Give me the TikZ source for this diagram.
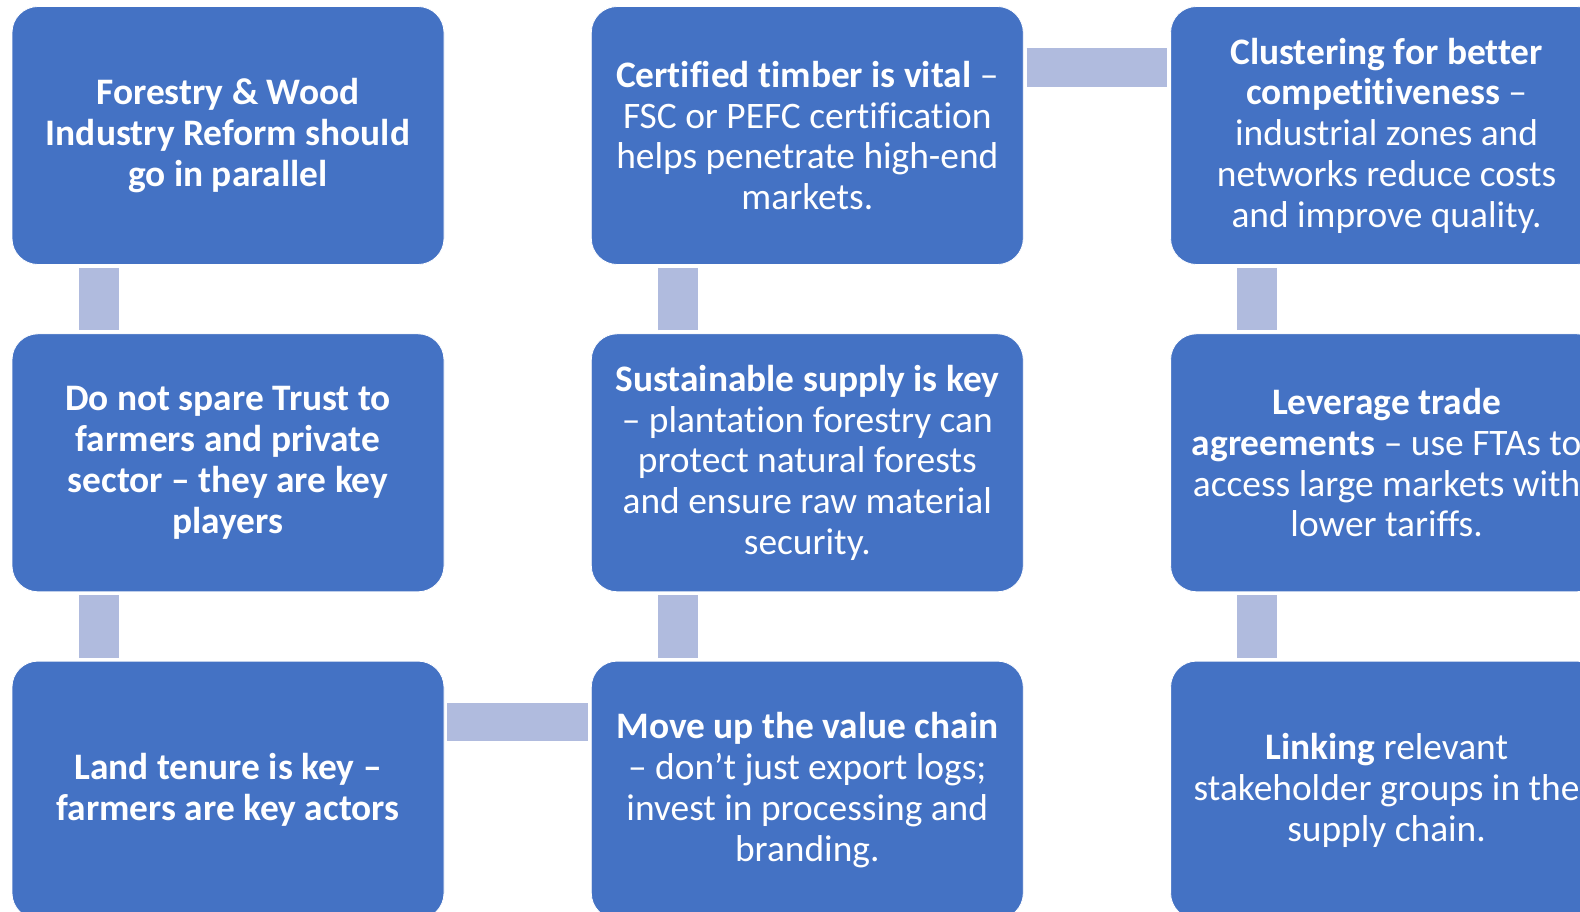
\documentclass[tikz,border=0pt]{standalone}
\usepackage{fontspec}
\setmainfont{Carlito}[Ligatures={TeX,NoCommon}]
\usetikzlibrary{positioning}
\definecolor{boxblue}{HTML}{4472C4}
\definecolor{linkblue}{HTML}{B0BBDE}

\begin{document}
\begin{tikzpicture}[x=1pt, y=-1pt,
    box/.style={rectangle, rounded corners=26pt, fill=boxblue, draw=white, line width=0.8pt,
      text=white, minimum width=432pt, minimum height=258pt, text width=428pt, align=flush center,
      inner sep=0pt, font=\fontsize{37.4}{40.8}\selectfont},
    link/.style={draw=linkblue, line width=40pt},
    hlink/.style={link, line width=38.5pt},
    node distance=68.5pt and 146.5pt]
    \useasboundingbox (0,0) rectangle (1580,912);
    \clip (0,0) rectangle (1580,912);

    \node[box] (reform) at (228,135.5) {\textbf{Forestry \& Wood}\\\textbf{Industry Reform should}\\\textbf{go in parallel}};
    \node[box, below=of reform] (trust) {\textbf{Do not spare Trust to}\\\textbf{farmers and private}\\\textbf{sector -- they are key}\\\textbf{players}};
    \node[box, below=of trust] (tenure) {\textbf{Land tenure is key --}\\\textbf{farmers are key actors}};

    \node[box, right=of tenure] (value) {\textbf{Move up the value chain}\\-- don’t just export logs;\\invest in processing and\\branding.};
    \node[box, right=of trust] (supply) {\textbf{Sustainable supply is key}\\-- plantation forestry can\\protect natural forests\\and ensure raw material\\security.};
    \node[box, right=of reform] (timber) {\textbf{Certified timber is vital} --\\FSC or PEFC certification\\helps penetrate high-end\\markets.};

    \node[box, right=of timber] (cluster) {\textbf{Clustering for better}\\\textbf{competitiveness} --\\industrial zones and\\networks reduce costs\\and improve quality.};
    \node[box, right=of supply] (trade) {\textbf{Leverage trade}\\\textbf{agreements} -- use FTAs to\\access large markets with\\lower tariffs.};
    \node[box, right=of value] (linking) {\textbf{Linking} relevant\\stakeholder groups in the\\supply chain.};

    \draw[link] ([xshift=87pt,yshift=-3pt]reform.south west) -- ([xshift=87pt,yshift=3pt]trust.north west);
    \draw[link] ([xshift=87pt,yshift=-3pt]trust.south west) -- ([xshift=87pt,yshift=3pt]tenure.north west);
    \draw[hlink] ([xshift=3pt,yshift=-61.5pt]tenure.north east) -- ([xshift=-3pt,yshift=-61.5pt]value.north west);
    \draw[link] ([xshift=87pt,yshift=3pt]value.north west) -- ([xshift=87pt,yshift=-3pt]supply.south west);
    \draw[link] ([xshift=87pt,yshift=3pt]supply.north west) -- ([xshift=87pt,yshift=-3pt]timber.south west);
    \draw[hlink] ([xshift=3pt,yshift=-61.5pt]timber.north east) -- ([xshift=-3pt,yshift=-61.5pt]cluster.north west);
    \draw[link] ([xshift=87pt,yshift=-3pt]cluster.south west) -- ([xshift=87pt,yshift=3pt]trade.north west);
    \draw[link] ([xshift=87pt,yshift=-3pt]trade.south west) -- ([xshift=87pt,yshift=3pt]linking.north west);
\end{tikzpicture}
\end{document}
